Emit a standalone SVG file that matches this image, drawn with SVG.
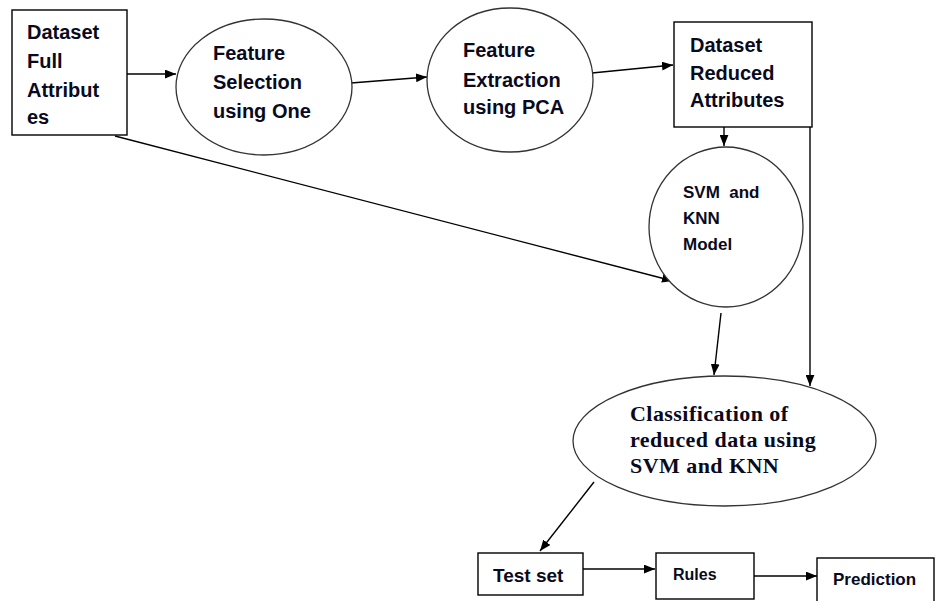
<svg xmlns="http://www.w3.org/2000/svg" width="936" height="601" viewBox="0 0 936 601">
<defs>
<style>
.n{fill:#fff;stroke:#000;stroke-width:1.4}
.e{fill:#fff;stroke:#333;stroke-width:1.3}
.t{font-family:"Liberation Sans",Arial,sans-serif;font-weight:bold;fill:#0a0a1e}
.s{font-family:"Liberation Serif","Times New Roman",serif;font-weight:bold;fill:#0a0a1e;font-size:22px;letter-spacing:0.45px}
.c{stroke:#000;stroke-width:1.4;fill:none;marker-end:url(#ah)}
</style>
<marker id="ah" viewBox="0 0 10 8" refX="10" refY="4" markerWidth="11" markerHeight="9" markerUnits="userSpaceOnUse" orient="auto">
<path d="M0,0 L10,4 L0,8 Z" fill="#000"/>
</marker>
</defs>
<rect width="936" height="601" fill="#fff"/>
<g id="connectors">
<line class="c" x1="127" y1="74" x2="176" y2="74"/>
<line class="c" x1="351" y1="83" x2="427" y2="77"/>
<line class="c" x1="592" y1="73" x2="673" y2="65"/>
<line class="c" x1="724" y1="127" x2="724" y2="146"/>
<line class="c" x1="115" y1="136" x2="673" y2="281"/>
<line class="c" x1="721" y1="313" x2="714" y2="375"/>
<line class="c" x1="810" y1="127" x2="810" y2="386"/>
<line class="c" x1="594" y1="482" x2="540" y2="551"/>
<line class="c" x1="583" y1="569" x2="655" y2="569"/>
<line class="c" x1="754" y1="576" x2="817" y2="576"/>
</g>
<g id="n1">
<rect class="n" x="12" y="10" width="115" height="125"/>
<text class="t" font-size="20" x="27" y="39">Dataset</text>
<text class="t" font-size="20" x="27" y="68">Full</text>
<text class="t" font-size="20" x="27" y="97">Attribut</text>
<text class="t" font-size="20" x="27" y="124">es</text>
</g>
<g id="n2">
<ellipse class="e" cx="264" cy="87" rx="88" ry="68"/>
<text class="t" font-size="20" x="213" y="60">Feature</text>
<text class="t" font-size="20" x="213" y="89">Selection</text>
<text class="t" font-size="20" x="213" y="118">using One</text>
</g>
<g id="n3">
<ellipse class="e" cx="510" cy="80" rx="83" ry="72"/>
<text class="t" font-size="20" x="463" y="57">Feature</text>
<text class="t" font-size="20" x="463" y="87">Extraction</text>
<text class="t" font-size="20" x="463" y="114">using PCA</text>
</g>
<g id="n4">
<rect class="n" x="674" y="22" width="138" height="105"/>
<text class="t" font-size="20" x="690" y="52">Dataset</text>
<text class="t" font-size="20" x="690" y="80">Reduced</text>
<text class="t" font-size="20" x="690" y="107">Attributes</text>
</g>
<g id="n5">
<ellipse class="e" cx="726" cy="227" rx="77" ry="80"/>
<text class="t" font-size="17" x="683" y="198" xml:space="preserve">SVM  and</text>
<text class="t" font-size="17" x="683" y="224">KNN</text>
<text class="t" font-size="17" x="683" y="250">Model</text>
</g>
<g id="n6">
<ellipse class="e" cx="724.5" cy="441" rx="151.5" ry="65"/>
<text class="s" x="630" y="421">Classification of</text>
<text class="s" x="630" y="447">reduced data using</text>
<text class="s" x="630" y="473">SVM and KNN</text>
</g>
<g id="n7">
<rect class="n" x="478" y="553" width="105" height="42"/>
<text class="t" font-size="19" x="493" y="582">Test set</text>
</g>
<g id="n8">
<rect class="n" x="656" y="553" width="98" height="46"/>
<text class="t" font-size="16" x="673" y="580">Rules</text>
</g>
<g id="n9">
<rect class="n" x="817" y="558" width="117" height="50"/>
<text class="t" font-size="17" x="833" y="585">Prediction</text>
</g>
</svg>
